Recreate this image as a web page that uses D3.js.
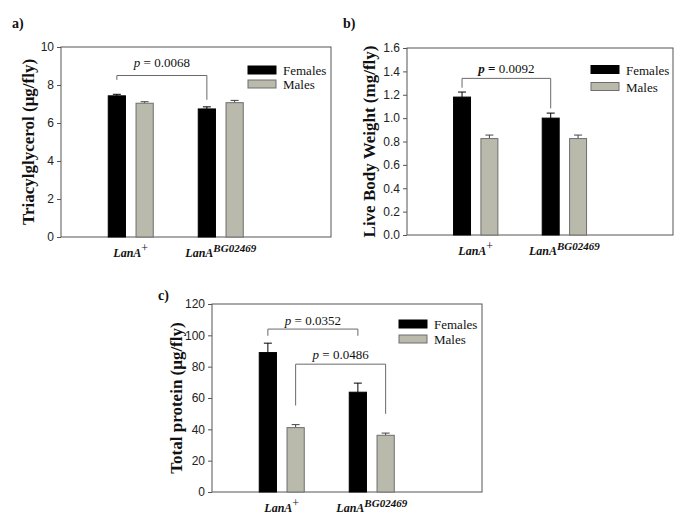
<!DOCTYPE html>
<html lang="en">
<head>
  <meta charset="UTF-8">
  <title>LanA phenotypes</title>
  <script src="https://d3js.org/d3.v7.min.js"></script>
  <style>
    body { margin: 0; background: white; }
    svg { display: block; background: white; }
    .tick text { font-family: "Liberation Sans", Arial, sans-serif; font-size: 12px; fill: #222; }
    .tick line { stroke: #555; }
    .domain { display: none; }
    .ylab { font-family: "Liberation Serif", serif; font-weight: bold; font-size: 17px; fill: #111; }
    .plab { font-family: "Liberation Serif", serif; font-weight: bold; font-size: 14px; fill: #111; }
    .xlab { font-family: "Liberation Serif", serif; font-weight: bold; font-style: italic; font-size: 12px; fill: #111; }
    .leg { font-family: "Liberation Serif", serif; font-size: 13px; fill: #111; }
    .pval { font-family: "Liberation Serif", serif; font-size: 13px; fill: #111; }
  </style>
</head>
<body>
<svg width="685" height="529"></svg>

<script>
  const genotypes = ["LanA+", "LanA BG02469"];
  const sexes = ["Females", "Males"];

  // a) triacylglycerol (ug/fly)
  const tagFemales = [7.43, 6.74];
  const tagFemalesErr = [0.08, 0.11];
  const tagMales = [7.04, 7.07];
  const tagMalesErr = [0.08, 0.12];
  const tagTicks = [0, 2, 4, 6, 8, 10];

  // b) live body weight (mg/fly)
  const weightFemales = [1.18, 1.00];
  const weightFemalesErr = [0.043, 0.043];
  const weightMales = [0.825, 0.825];
  const weightMalesErr = [0.03, 0.03];
  const weightTicks = [0, 0.2, 0.4, 0.6, 0.8, 1.0, 1.2, 1.4, 1.6];

  // c) total protein (ug/fly)
  const proteinFemales = [89, 63.7];
  const proteinFemalesErr = [6, 5.8];
  const proteinMales = [41.1, 36.2];
  const proteinMalesErr = [1.9, 1.4];
  const proteinTicks = [0, 20, 40, 60, 80, 100, 120];

  const svg = d3.select("svg");
  const colors = {Females: "#000", Males: "#b9b9ac"};
  const strokes = {Females: "#000", Males: "#6e6e6e"};

  function drawPanel(p) {
    const w = p.right - p.left, h = p.bottom - p.top;
    const g = svg.append("g").attr("transform", `translate(${p.left},${p.top})`);

    const y = d3.scaleLinear().domain([0, d3.max(p.ticks)]).range([h, 0]);
    const x = d3.scaleBand().domain(genotypes).range([0, w])
        .paddingInner(0.5).paddingOuter(0.75).align(0.35);
    const xs = d3.scaleBand().domain(sexes).range([0, x.bandwidth()]).paddingInner(0.38);

    // y axis
    g.append("g")
        .call(d3.axisLeft(y).tickValues(p.ticks).tickSize(4).tickPadding(3).tickFormat(p.fmt));

    // frame
    g.append("rect").attr("width", w).attr("height", h)
        .attr("fill", "none").attr("stroke", "#555").attr("stroke-width", 1);

    const rows = [];
    genotypes.forEach((gt, i) => {
      rows.push({g: gt, s: "Females", v: p.females[i], e: p.femalesErr[i]});
      rows.push({g: gt, s: "Males", v: p.males[i], e: p.malesErr[i]});
    });

    // error bars
    const cap = 4;
    rows.forEach(d => {
      const cx = x(d.g) + xs(d.s) + xs.bandwidth() / 2;
      const col = d.s === "Females" ? "#000" : "#444";
      g.append("line").attr("x1", cx).attr("x2", cx)
          .attr("y1", y(d.v)).attr("y2", y(d.v + d.e)).attr("stroke", col);
      g.append("line").attr("x1", cx - cap).attr("x2", cx + cap)
          .attr("y1", y(d.v + d.e)).attr("y2", y(d.v + d.e)).attr("stroke", col);
    });

    // bars
    g.selectAll(".bar").data(rows).enter().append("rect")
        .attr("x", d => x(d.g) + xs(d.s))
        .attr("y", d => y(d.v))
        .attr("width", xs.bandwidth())
        .attr("height", d => h - y(d.v))
        .attr("fill", d => colors[d.s])
        .attr("stroke", d => strokes[d.s]);

    // significance brackets
    p.brackets.forEach(b => {
      const x1 = x(genotypes[0]) + xs(b.sex) + xs.bandwidth() / 2;
      const x2 = x(genotypes[1]) + xs(b.sex) + xs.bandwidth() / 2;
      g.append("path")
          .attr("d", `M${x1},${y(b.y1)}V${y(b.y)}H${x2}V${y(b.y2)}`)
          .attr("fill", "none").attr("stroke", "#6a6a6a").attr("stroke-width", 1);
      const t = g.append("text").attr("class", "pval")
          .attr("x", (x1 + x2) / 2).attr("y", y(b.y) - b.dy)
          .attr("text-anchor", "middle");
      t.append("tspan").style("font-style", "italic").style("font-weight", p.pBold ? "bold" : "normal").text("p");
      t.append("tspan").style("font-weight", p.pBold ? "bold" : "normal").text(" = ");
      t.append("tspan").text(b.p);
    });

    // x labels
    genotypes.forEach((gt, i) => {
      const t = g.append("text").attr("class", "xlab")
          .attr("x", x(gt) + x.bandwidth() / 2).attr("y", h + 20)
          .attr("text-anchor", "middle");
      t.append("tspan").text("LanA");
      t.append("tspan").attr("dy", -5).style("font-size", i === 0 ? "12px" : "11px")
          .style("font-style", i === 0 ? "normal" : "italic")
          .style("font-weight", i === 0 ? "normal" : "bold")
          .text(i === 0 ? "+" : "BG02469");
    });

    // legend
    sexes.forEach((s, i) => {
      const ly = p.legTop + i * p.legGap;
      g.append("rect").attr("x", w + p.legRight).attr("y", ly)
          .attr("width", 28).attr("height", 8)
          .attr("fill", colors[s]).attr("stroke", strokes[s]);
      g.append("text").attr("class", "leg")
          .attr("x", w + p.legRight + 35).attr("y", ly + 9).text(s);
    });

    // y label
    g.append("text").attr("class", "ylab")
        .attr("transform", `translate(${-p.ylabOff},${h / 2}) rotate(-90)`)
        .attr("text-anchor", "middle").text(p.ylab);

    // panel letter
    svg.append("text").attr("class", "plab")
        .attr("x", p.letterX).attr("y", p.letterY).text(p.letter);
  }

  drawPanel({
    left: 61, top: 47, right: 331, bottom: 237,
    females: tagFemales, femalesErr: tagFemalesErr,
    males: tagMales, malesErr: tagMalesErr,
    ticks: tagTicks, fmt: d3.format("d"),
    brackets: [{sex: "Females", y: 8.5, y1: 8.27, y2: 7.22, p: "0.0068", dy: 9}],
    legRight: -83, legTop: 19, legGap: 14,
    ylab: "Triacylglycerol (\u03bcg/fly)", ylabOff: 27,
    letter: "a)", letterX: 12, letterY: 28
  });

  drawPanel({
    left: 407, top: 48, right: 673, bottom: 235,
    females: weightFemales, femalesErr: weightFemalesErr,
    males: weightMales, malesErr: weightMalesErr,
    ticks: weightTicks, fmt: d3.format(".1f"), pBold: true,
    brackets: [{sex: "Females", y: 1.34, y1: 1.26, y2: 1.083, p: "0.0092", dy: 5}],
    legRight: -82, legTop: 17.5, legGap: 17,
    ylab: "Live Body Weight (mg/fly)", ylabOff: 32,
    letter: "b)", letterX: 343, letterY: 28
  });

  drawPanel({
    left: 212, top: 304, right: 482, bottom: 492,
    females: proteinFemales, femalesErr: proteinFemalesErr,
    males: proteinMales, malesErr: proteinMalesErr,
    ticks: proteinTicks, fmt: d3.format("d"),
    brackets: [
      {sex: "Females", y: 104, y1: 99.7, y2: 99.7, p: "0.0352", dy: 4},
      {sex: "Males", y: 81.6, y1: 55.2, y2: 49.9, p: "0.0486", dy: 5}
    ],
    legRight: -83, legTop: 16, legGap: 15,
    ylab: "Total protein (\u03bcg/fly)", ylabOff: 30,
    letter: "c)", letterX: 158, letterY: 300
  });
</script>
</body>
</html>
